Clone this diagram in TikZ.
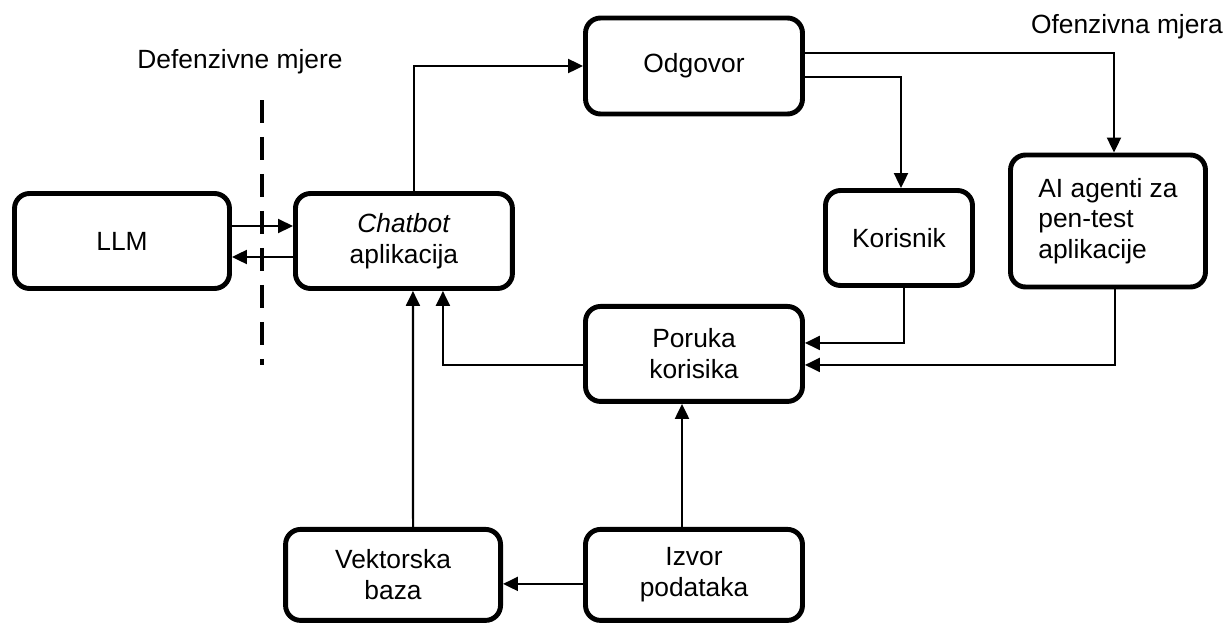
\documentclass[tikz,border=0pt]{standalone}
\usepackage{fontspec}
\setmainfont{Liberation Sans}
\usetikzlibrary{arrows.meta}

\tikzset{
  blok/.style={rectangle, draw, line width=2.8pt, rounded corners=0.3cm, inner sep=0pt, text centered, align=center},
  veza/.style={draw, line width=1.2pt, -{Triangle[length=0.3cm,width=0.28cm]}},
}

\begin{document}
\begin{tikzpicture}[x=0.02cm, y=-0.02cm, node distance=5cm, font=\fontsize{15}{17.5}\selectfont]
    \useasboundingbox (0,0) rectangle (1225,626);
    % Place nodes
    \node [blok, minimum width=4.3cm, minimum height=1.9cm] (llm) at (122,241) {LLM};
    \node [blok, minimum width=4.34cm, minimum height=1.9cm, right of=llm, node distance=5.64cm] (chatbot) {\textit{Chatbot}\\aplikacija};
    \node [blok, minimum width=4.34cm, minimum height=1.92cm] (odgovor) at (694,66) {Odgovor};
    \node [blok, minimum width=4.34cm, minimum height=1.9cm, below of=odgovor, node distance=5.76cm] (poruka) {Poruka\\korisika};
    \node [blok, minimum width=4.34cm, minimum height=1.82cm, below of=poruka, node distance=4.42cm] (izvor) {Izvor\\podataka};
    \node [blok, minimum width=4.3cm, minimum height=1.82cm, left of=izvor, node distance=6.02cm] (vektor) {Vektorska\\baza};
    \node [blok, minimum width=2.94cm, minimum height=1.9cm] (korisnik) at (899,238) {Korisnik};
    \node [blok, minimum width=3.9cm, minimum height=2.64cm, align=left] (agenti) at (1108,221) {AI agenti za\\pen-test\\aplikacije};

    % Labels
    \node (defenziva) at (240,62) {Defenzivne mjere};
    \node (ofenziva) at (1127,27) {Ofenzivna mjera};
    \coordinate (granica gore) at (262,100);
    \coordinate (granica dolje) at (262,365);
    \draw [line width=2.8pt, dash pattern=on 0.46cm off 0.28cm] (granica gore) -- (granica dolje);

    % Connectors
    \path [veza] ([yshift=0.3cm]llm.east) -- ([yshift=0.3cm]chatbot.west);
    \path [veza] ([yshift=-0.32cm]chatbot.west) -- ([yshift=-0.32cm]llm.east);
    \path [veza] ([xshift=0.2cm]chatbot.north) |- (odgovor.west);
    \path [veza] ([yshift=0.26cm]odgovor.east) -| ([xshift=0.12cm]agenti.north);
    \path [veza] ([yshift=-0.22cm]odgovor.east) -| ([xshift=0.04cm]korisnik.north);
    \path [veza] ([xshift=0.1cm]korisnik.south) |- ([yshift=0.22cm]poruka.east);
    \path [veza] ([xshift=0.14cm]agenti.south) |- ([yshift=-0.22cm]poruka.east);
    \path [veza] ([yshift=-0.22cm]poruka.west) -| ([xshift=0.78cm]chatbot.south);
    \path [veza] ([xshift=0.4cm]vektor.north) -- ([xshift=0.18cm]chatbot.south);
    \path [veza] ([xshift=-0.24cm]izvor.north) -- ([xshift=-0.24cm]poruka.south);
    \path [veza] ([yshift=-0.18cm]izvor.west) -- ([yshift=-0.18cm]vektor.east);
\end{tikzpicture}
\end{document}
